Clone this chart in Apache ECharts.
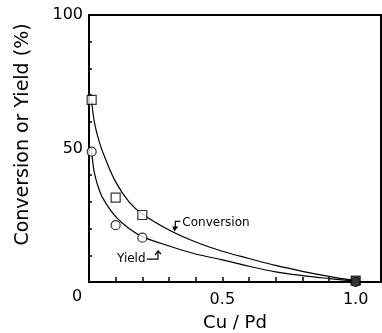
<!DOCTYPE html>
<html>
<head>
<meta charset="utf-8">
<script src="https://cdn.jsdelivr.net/npm/echarts@6/dist/echarts.min.js"></script>
<style>
  html, body { margin: 0; padding: 0; background: #fff; }
  #chart { width: 382px; height: 333px; }
</style>
</head>
<body>
<div id="chart"></div>
<script>
// Measured points (Cu/Pd ratio vs. %)
const ratioPoints     = [0.01, 0.1, 0.2, 1.0];
const conversionPoints = [68.2, 31.6, 25.1, 0.5];
const yieldPoints      = [48.8, 21.3, 16.6, 0.0];

// Smooth trend curves through the measurements
const curveRatio      = [0.01, 0.02, 0.04, 0.06, 0.1, 0.15, 0.2, 0.3, 0.4, 0.5, 0.6, 0.7, 0.8, 0.9, 1.0];
const conversionCurve = [68, 60, 52, 46.5, 37.5, 30, 25.5, 19.5, 15, 11.5, 8.8, 6.2, 4.0, 2.1, 0.5];
const yieldCurve      = [49, 41, 34, 30, 24.5, 20, 17, 13.5, 10.5, 8.3, 5.9, 3.8, 2.4, 1.3, 0.3];

const xTickLabels = { '0.5': '0.5', '1': '1.0' };
const yTickLabels = { '50': '50', '100': '100' };

const FONT = 'DejaVu Sans';
const pair = (xs, ys) => xs.map((x, i) => [x, ys[i]]);

const chart = echarts.init(document.getElementById('chart'), null, { renderer: 'canvas' });

const markerStyle = (last) => ({
  color: last ? '#333' : '#fff',
  borderColor: '#000',
  borderWidth: 1.2
});

chart.setOption({
  animation: false,
  backgroundColor: '#fff',
  grid: {
    left: 89, top: 15, right: 1, bottom: 51,
    containLabel: false, outerBoundsMode: 'none',
    show: true, borderColor: '#000', borderWidth: 2, backgroundColor: 'transparent'
  },
  xAxis: {
    type: 'value', min: 0, max: 1.095, interval: 0.1,
    name: 'Cu / Pd', nameLocation: 'middle', nameGap: 32,
    nameTextStyle: { fontFamily: FONT, fontSize: 18, color: '#000' },
    axisLine: { show: true, lineStyle: { color: '#000', width: 2 } },
    axisTick: { show: true, inside: true, length: 5, lineStyle: { color: '#000', width: 1.5 } },
    splitLine: { show: false },
    axisLabel: {
      margin: 10, fontFamily: FONT, fontSize: 16, color: '#000',
      formatter: v => xTickLabels[String(Math.round(v * 10) / 10)] || ''
    }
  },
  yAxis: {
    type: 'value', min: 0, max: 100, interval: 10,
    name: 'Conversion or Yield (%)', nameLocation: 'middle', nameGap: 56,
    nameTextStyle: { fontFamily: FONT, fontSize: 19, color: '#000', padding: [0, 0, 0, 28] },
    axisLine: { show: true, lineStyle: { color: '#000', width: 2 } },
    axisTick: { show: true, inside: true, length: 3, lineStyle: { color: '#000', width: 1.5 } },
    splitLine: { show: false },
    axisLabel: {
      margin: 6, fontFamily: FONT, fontSize: 16, color: '#000',
      formatter: v => yTickLabels[String(v)] || ''
    }
  },
  series: [
    {
      type: 'line', smooth: 0.35, data: pair(curveRatio, conversionCurve),
      showSymbol: false, lineStyle: { color: '#000', width: 1.2 }, z: 2
    },
    {
      type: 'line', smooth: 0.35, data: pair(curveRatio, yieldCurve),
      showSymbol: false, lineStyle: { color: '#000', width: 1.2 }, z: 2
    },
    {
      type: 'scatter', symbol: 'rect', symbolSize: 9, z: 3,
      data: pair(ratioPoints, conversionPoints).map((p, i) => ({
        value: p, itemStyle: markerStyle(i === ratioPoints.length - 1)
      }))
    },
    {
      type: 'scatter', symbol: 'circle', symbolSize: 9, z: 3,
      data: pair(ratioPoints, yieldPoints).map((p, i) => ({
        value: p, itemStyle: markerStyle(i === ratioPoints.length - 1)
      }))
    }
  ]
});

// Curve annotations and the shared origin label, anchored in data space
function addAnnotations() {
  const at = (x, y) => chart.convertToPixel({ gridIndex: 0 }, [x, y]);
  const origin = at(0, 0);
  const conv = at(0.35, 22.3);   // start of the "Conversion" label
  const yld = at(0.105, 8.6);    // start of the "Yield" label
  const line = { stroke: '#000', lineWidth: 1.2, fill: null };

  chart.setOption({
    graphic: [
      {
        type: 'text', x: origin[0] - 12, y: origin[1] + 15,
        style: { text: '0', font: '16px "' + FONT + '"', fill: '#000', align: 'center', verticalAlign: 'middle' }
      },
      {
        type: 'text', x: conv[0], y: conv[1],
        style: { text: 'Conversion', font: '12px "' + FONT + '"', fill: '#000', align: 'left', verticalAlign: 'middle' }
      },
      {
        type: 'polyline',
        shape: { points: [[conv[0] - 2, conv[1] - 1], [conv[0] - 7, conv[1] - 1], [conv[0] - 7, conv[1] + 6]] },
        style: line
      },
      {
        type: 'polygon',
        shape: { points: [[conv[0] - 10, conv[1] + 4], [conv[0] - 4, conv[1] + 4], [conv[0] - 8, conv[1] + 9]] },
        style: { fill: '#000' }
      },
      {
        type: 'text', x: yld[0], y: yld[1],
        style: { text: 'Yield', font: '12px "' + FONT + '"', fill: '#000', align: 'left', verticalAlign: 'middle' }
      },
      {
        type: 'polyline',
        shape: { points: [[yld[0] + 30, yld[1]], [yld[0] + 41, yld[1]], [yld[0] + 41, yld[1] - 7]] },
        style: line
      },
      {
        type: 'polyline',
        shape: { points: [[yld[0] + 38, yld[1] - 4], [yld[0] + 41, yld[1] - 8], [yld[0] + 44, yld[1] - 5]] },
        style: line
      }
    ]
  });
}
addAnnotations();
</script>
</body>
</html>
